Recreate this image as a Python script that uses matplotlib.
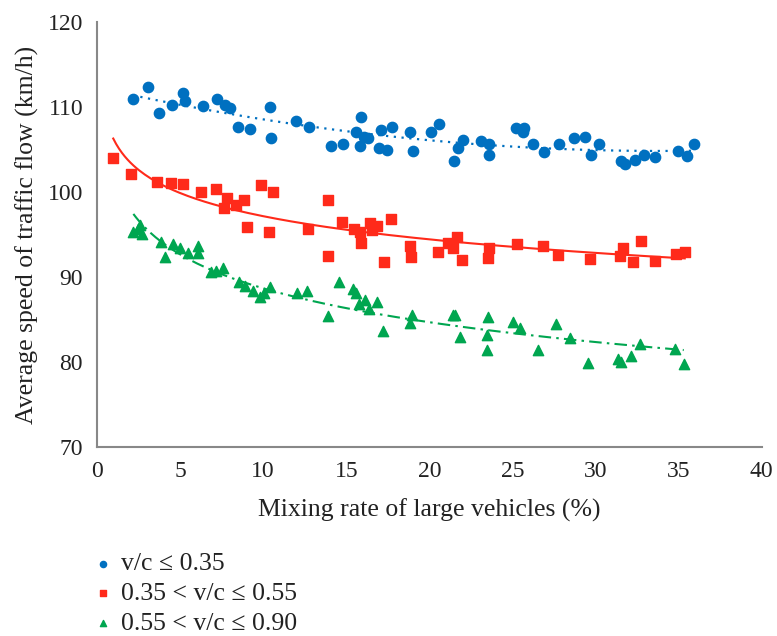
import matplotlib.pyplot as plt
import numpy as np

# v/c <= 0.35
blue_x = [2.15, 3.06, 3.74, 4.54, 5.17, 5.27, 6.38, 7.2, 7.72, 7.98, 8.49, 9.19, 10.4, 10.46,
          11.99, 12.77, 14.06, 14.8, 15.61, 15.91, 15.83, 16.07, 16.33, 17.0, 17.44, 17.12,
          17.74, 18.84, 19.0, 20.13, 20.56, 21.5, 21.74, 22.04, 23.11, 23.61, 23.61, 25.22,
          25.72, 25.62, 26.26, 26.93, 27.83, 28.68, 29.34, 29.74, 30.18, 31.55, 31.75, 32.36,
          32.9, 33.56, 34.97, 35.48, 35.92]
blue_y = [110.9, 112.3, 109.3, 110.2, 111.7, 110.7, 110.15, 111.0, 110.2, 109.85, 107.6, 107.4,
          110.0, 106.35, 108.35, 107.6, 105.4, 105.6, 107.1, 108.8, 105.4, 106.5, 106.35, 105.2,
          104.9, 107.3, 107.6, 107.1, 104.85, 107.1, 107.95, 103.65, 105.15, 106.1, 106.0, 105.6,
          104.35, 107.5, 107.5, 107.0, 105.6, 104.7, 105.65, 106.4, 106.5, 104.3, 105.7, 103.6,
          103.3, 103.75, 104.3, 104.1, 104.8, 104.25, 105.6]

# 0.35 < v/c <= 0.55
red_x = [0.98, 2.03, 3.64, 4.45, 5.17, 6.27, 7.14, 7.82, 7.66, 8.37, 8.87, 9.89, 10.58, 9.03,
         10.38, 12.69, 13.9, 13.9, 14.72, 15.47, 15.83, 15.91, 16.43, 16.83, 16.57, 17.27,
         17.72, 18.82, 18.92, 20.53, 21.1, 21.4, 21.64, 21.94, 23.61, 23.55, 25.26, 26.83,
         27.73, 29.64, 31.45, 31.65, 32.26, 32.72, 33.56, 34.87, 35.37]
red_y = [104.0, 102.1, 101.2, 101.1, 100.9, 100.0, 100.3, 99.25, 98.15, 98.5, 99.05, 100.8, 99.96,
         95.9, 95.3, 95.6, 99.06, 92.5, 96.5, 95.6, 95.26, 94.0, 96.3, 96.0, 95.5, 91.8, 96.8,
         93.6, 92.4, 92.9, 93.96, 93.4, 94.75, 92.0, 93.4, 92.2, 93.9, 93.65, 92.6, 92.1, 92.5,
         93.4, 91.8, 94.2, 91.9, 92.7, 92.9]

# 0.55 < v/c <= 0.90
green_x = [2.19, 2.59, 2.7, 2.49, 3.84, 4.1, 4.6, 5.0, 5.47, 6.07, 6.07, 6.86, 7.18, 7.56, 8.53,
           8.89, 9.37, 9.83, 10.03, 10.44, 12.05, 12.61, 13.9, 14.56, 15.4, 15.61, 16.11, 15.77,
           16.37, 16.83, 17.24, 18.93, 18.82, 21.4, 21.56, 21.84, 23.51, 23.45, 23.45, 25.06,
           25.46, 26.53, 27.63, 28.48, 29.54, 31.35, 31.55, 32.16, 32.66, 34.77, 35.31]
green_y = [95.26, 96.1, 95.1, 95.7, 94.15, 92.4, 93.9, 93.4, 92.8, 93.6, 92.8, 90.6, 90.7, 91.0,
           89.45, 88.9, 88.3, 87.7, 88.15, 88.8, 88.1, 88.4, 85.4, 89.45, 88.55, 88.15, 87.3, 86.8,
           86.2, 87.0, 83.65, 85.5, 84.55, 85.5, 85.5, 82.9, 85.3, 83.2, 81.4, 84.7, 83.96, 81.4,
           84.5, 82.8, 79.9, 80.3, 80.0, 80.7, 82.1, 81.5, 79.8]

labels = ["v/c ≤ 0.35", "0.35 < v/c ≤ 0.55", "0.55 < v/c ≤ 0.90"]
colors = ["#0070C0", "#FF2A1A", "#00A650"]

plt.rcParams['font.family'] = ['Liberation Serif', 'DejaVu Serif']

fig = plt.figure(figsize=(7.77, 6.36), dpi=100)
ax = fig.add_axes([0.1248, 0.2972, 0.8555, 0.6682])

h1 = ax.scatter(blue_x, blue_y, s=55, marker="o", color=colors[0], zorder=3, label=labels[0])
h2 = ax.scatter(red_x, red_y, s=55, marker="s", color=colors[1], zorder=3, label=labels[1])
h3 = ax.scatter(green_x, green_y, s=55, marker="^", color=colors[2], zorder=3, label=labels[2])

# trendlines
bx = np.array(blue_x)
cb = np.polyfit(bx, blue_y, 2)
xs = np.linspace(bx.min(), bx.max(), 200)
ax.plot(xs, np.polyval(cb, xs), color=colors[0], lw=1.6, linestyle=(0, (1, 2.5)), zorder=2)

rx = np.array(red_x)
cr = np.polyfit(np.log(rx), red_y, 1)
xs = np.linspace(rx.min(), rx.max(), 200)
ax.plot(xs, np.polyval(cr, np.log(xs)), color=colors[1], lw=1.5, zorder=2)

gx = np.array(green_x)
cg = np.polyfit(np.log(gx), green_y, 1)
xs = np.linspace(gx.min(), gx.max(), 200)
ax.plot(xs, np.polyval(cg, np.log(xs)), color=colors[2], lw=1.5,
        linestyle=(0, (6, 2.5, 1.2, 2.5)), zorder=2)

ax.set_xlim(0, 40)
ax.set_ylim(70, 120)
ax.set_xticks(range(0, 41, 5))
ax.set_yticks(range(70, 121, 10))
ax.tick_params(length=0, labelsize=17, colors="#222222")
ax.tick_params(axis="y", pad=10)
ax.tick_params(axis="x", pad=10)
for s in ["top", "right"]:
    ax.spines[s].set_visible(False)
for s in ["left", "bottom"]:
    ax.spines[s].set_color("#888888")
    ax.spines[s].set_linewidth(1.5)

ax.set_xlabel("Mixing rate of large vehicles (%)", fontsize=18.5, color="#222222", labelpad=12)
ax.set_ylabel("Average speed of traffic flow (km/h)", fontsize=18.5, color="#222222", labelpad=6)

fig.legend(handles=[h1, h2, h3], loc="upper left", bbox_to_anchor=(0.09, 0.168),
           frameon=False, fontsize=18.5, handletextpad=0.3, labelspacing=0.27,
           markerscale=0.6, handlelength=0.8, labelcolor="#222222")

fig.savefig("out.png", dpi=100)
